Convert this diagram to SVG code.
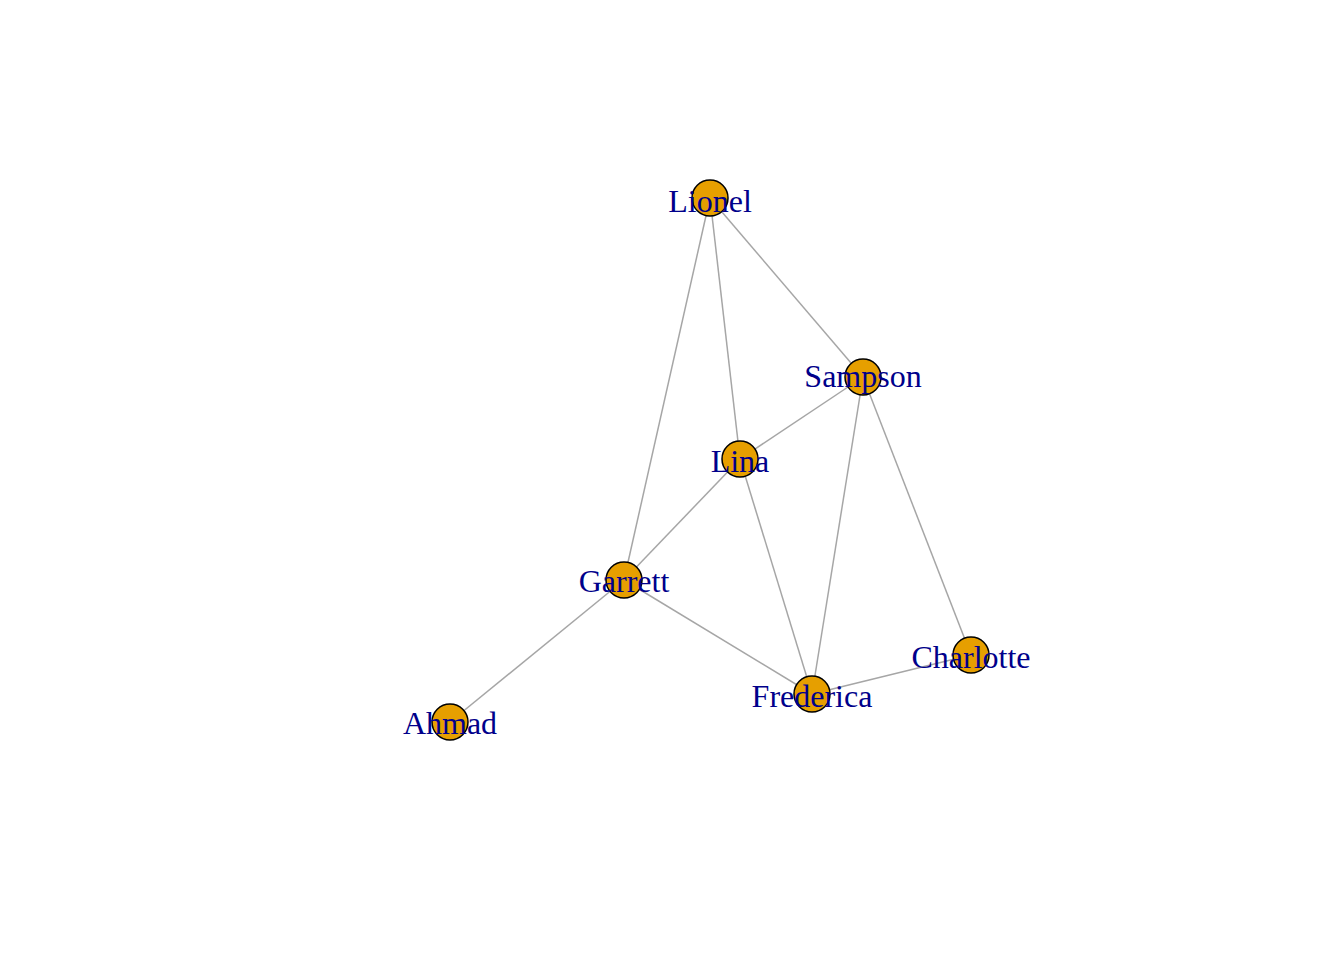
<svg xmlns="http://www.w3.org/2000/svg" width="1344" height="960" viewBox="0 0 1344 960">
<style>
.e{stroke:#A6A6A6;stroke-width:1.5;fill:none}
.n circle{fill:#E69F00;stroke:#000;stroke-width:1.5}
.n text{font-family:"Liberation Serif","Times New Roman",serif;font-size:32px;fill:#00008B;text-anchor:middle}
</style>
<rect width="1344" height="960" fill="#fff"/>
<g id="edges">
<line class="e" x1="710" y1="198" x2="624" y2="580"/>
<line class="e" x1="710" y1="198" x2="740" y2="459"/>
<line class="e" x1="710" y1="198" x2="863" y2="377"/>
<line class="e" x1="863" y1="377" x2="740" y2="459"/>
<line class="e" x1="863" y1="377" x2="812" y2="694"/>
<line class="e" x1="863" y1="377" x2="971" y2="655"/>
<line class="e" x1="740" y1="459" x2="624" y2="580"/>
<line class="e" x1="740" y1="459" x2="812" y2="694"/>
<line class="e" x1="624" y1="580" x2="812" y2="694"/>
<line class="e" x1="624" y1="580" x2="450" y2="722"/>
<line class="e" x1="971" y1="655" x2="812" y2="694"/>
</g>
<g id="node-Lionel" class="n"><circle cx="710" cy="198" r="18"/><text x="710" y="212">Lionel</text></g>
<g id="node-Sampson" class="n"><circle cx="863" cy="377" r="18"/><text x="863" y="387">Sampson</text></g>
<g id="node-Lina" class="n"><circle cx="740" cy="459" r="18"/><text x="740" y="472">Lina</text></g>
<g id="node-Garrett" class="n"><circle cx="624" cy="580" r="18"/><text x="624" y="592">Garrett</text></g>
<g id="node-Charlotte" class="n"><circle cx="971" cy="655" r="18"/><text x="971" y="668">Charlotte</text></g>
<g id="node-Frederica" class="n"><circle cx="812" cy="694" r="18"/><text x="812" y="707">Frederica</text></g>
<g id="node-Ahmad" class="n"><circle cx="450" cy="722" r="18"/><text x="450" y="734">Ahmad</text></g>
</svg>
